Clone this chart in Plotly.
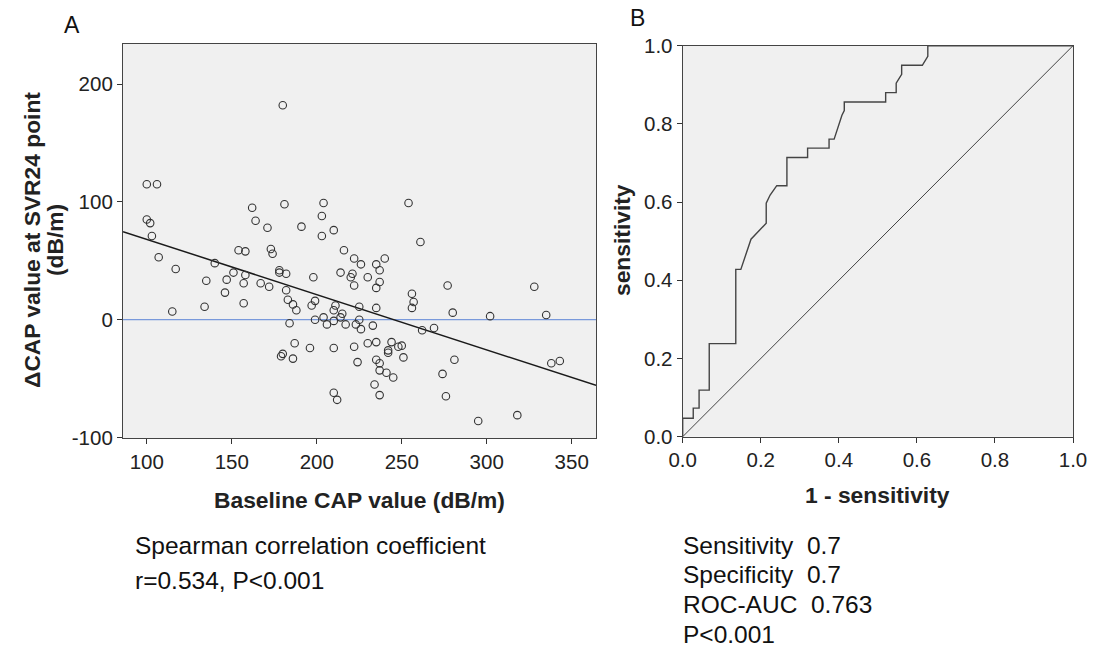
import plotly.graph_objects as go

# ---------------- Data ----------------
baseline_cap = [100, 106, 100, 102, 103, 107, 117, 115, 134, 135, 140, 146, 147, 151, 154, 158, 158, 157, 157,
                162, 164, 167, 171, 172, 173, 174, 178, 178, 182, 181, 182, 183, 186, 188, 184, 187, 196, 180,
                179, 186, 191, 198, 199, 197, 199, 204, 203, 203, 210, 216, 214, 211, 210, 215, 204, 206, 210,
                214, 210, 210, 212, 217, 254, 261, 222, 226, 235, 240, 237, 221, 220, 230, 237, 222, 235, 277,
                328, 256, 257, 256, 225, 235, 225, 223, 226, 233, 280, 302, 335, 262, 269, 222, 230, 235, 244,
                242, 242, 248, 250, 251, 224, 235, 237, 237, 241, 245, 234, 237, 281, 274, 276, 295, 318, 338,
                343, 180]
delta_cap = [115, 115, 85, 82, 71, 53, 43, 7, 11, 33, 48, 23, 34, 40, 59, 58, 38, 31, 14,
             95, 84, 31, 78, 28, 60, 56, 42, 40, 39, 98, 25, 17, 13, 8, -3, -20, -24, -29,
             -31, -33, 79, 36, 16, 12, 0, 99, 88, 71, 76, 59, 40, 12, 8, 5, 2, -4, -1,
             2, -24, -62, -68, -4, 99, 66, 52, 47, 47, 52, 42, 39, 36, 36, 32, 29, 27, 29,
             28, 22, 15, 10, 11, 10, 0, -4, -8, -5, 6, 3, 4, -9, -7, -23, -20, -19, -19,
             -26, -28, -23, -22, -32, -36, -34, -37, -43, -45, -49, -55, -64, -34, -46, -65, -86, -81, -37,
             -35, 182]

# regression line: y = intercept + slope * x
fit_x_ends = [86, 364.3]
fit_intercept = 115.1
fit_slope = -0.469

# ROC curve
roc_fpr = [0, 0, 0.027, 0.027, 0.042, 0.042, 0.068, 0.068, 0.136, 0.136,
           0.149, 0.175, 0.214, 0.214, 0.224, 0.241, 0.267, 0.267, 0.320, 0.320,
           0.375, 0.375, 0.388, 0.408, 0.414, 0.414, 0.520, 0.520, 0.547, 0.547,
           0.561, 0.561, 0.614, 0.628, 0.628, 1.0]
roc_tpr = [0, 0.047, 0.047, 0.073, 0.073, 0.119, 0.119, 0.238, 0.238, 0.428,
           0.428, 0.505, 0.546, 0.597, 0.618, 0.642, 0.642, 0.714, 0.714, 0.738,
           0.738, 0.761, 0.761, 0.822, 0.834, 0.856, 0.856, 0.880, 0.880, 0.904,
           0.927, 0.950, 0.950, 0.973, 1.0, 1.0]
ref_line = [0, 1]

a_xticks = [100, 150, 200, 250, 300, 350]
a_yticks = [-100, 0, 100, 200]
a_yticklabels = ["-100", "0", "100", "200"]
b_ticks = [0.0, 0.2, 0.4, 0.6, 0.8, 1.0]

# ---------------- Figure ----------------
W, H = 1106, 647
FONT = "Liberation Sans, Arial, sans-serif"


def px(x):
    return x / W


def py(y):
    return 1 - y / H


fig = go.Figure()

fig.add_trace(go.Scatter(x=fit_x_ends, y=[0, 0], mode="lines",
                         line=dict(color="#5b83d6", width=1), xaxis="x", yaxis="y",
                         hoverinfo="skip", showlegend=False))
fig.add_trace(go.Scatter(x=fit_x_ends, y=[fit_intercept + fit_slope * v for v in fit_x_ends],
                         mode="lines", line=dict(color="#1a1a1a", width=1.5),
                         xaxis="x", yaxis="y", showlegend=False))
fig.add_trace(go.Scatter(x=baseline_cap, y=delta_cap, mode="markers",
                         marker=dict(symbol="circle-open", size=7.5, color="#333333",
                                     line=dict(width=1.1, color="#333333")),
                         xaxis="x", yaxis="y", showlegend=False, cliponaxis=False))

fig.add_trace(go.Scatter(x=ref_line, y=ref_line, mode="lines",
                         line=dict(color="#444444", width=1), xaxis="x2", yaxis="y2", showlegend=False))
fig.add_trace(go.Scatter(x=roc_fpr, y=roc_tpr, mode="lines",
                         line=dict(color="#444444", width=1.4), xaxis="x2", yaxis="y2", showlegend=False))

axis_common = dict(showgrid=False, zeroline=False, ticks="outside", ticklen=5, tickwidth=1,
                   tickcolor="#333333", showline=True, linecolor="#444444", linewidth=1.2,
                   mirror=True, automargin=False,
                   tickfont=dict(family=FONT, size=20.5, color="#222222"))

fig.update_layout(
    width=W, height=H,
    margin=dict(l=0, r=0, t=0, b=0, autoexpand=False),
    paper_bgcolor="white",
    plot_bgcolor="#f0f0f0",
    font=dict(family=FONT, color="#222222"),
    xaxis=dict(domain=[px(123), px(596)], range=[86, 364.3], tickvals=a_xticks,
               anchor="y", **axis_common),
    yaxis=dict(domain=[py(438), py(44)], range=[-100.4, 234], tickvals=a_yticks,
               ticktext=a_yticklabels, anchor="x", **axis_common),
    xaxis2=dict(domain=[px(682.7), px(1073)], range=[0, 1], tickvals=b_ticks,
                tickformat=".1f", anchor="y2", **axis_common),
    yaxis2=dict(domain=[py(436.7), py(45.7)], range=[0, 1], tickvals=b_ticks,
                tickformat=".1f", anchor="x2", **axis_common),
)

bold = dict(family=FONT, size=22.8, color="#222222")
reg = dict(family=FONT, size=24.5, color="#111111")

ann = [
    dict(x=px(72), y=py(25), text="A", font=dict(family=FONT, size=23, color="#111111")),
    dict(x=px(637), y=py(18), text="B", font=dict(family=FONT, size=23, color="#111111")),
    dict(x=px(359), y=py(500), text="<b>Baseline CAP value (dB/m)</b>", font=bold),
    dict(x=px(878), y=py(495), text="<b>1 - sensitivity</b>", font=bold),
    dict(x=px(32), y=py(240), text="<b>ΔCAP value at SVR24 point</b>", font=bold, textangle=-90),
    dict(x=px(55), y=py(240), text="<b>(dB/m)</b>", font=bold, textangle=-90),
    dict(x=px(622), y=py(240), text="<b>sensitivity</b>", font=bold, textangle=-90),
]
for a in ann:
    a.update(xref="paper", yref="paper", showarrow=False, xanchor="center", yanchor="middle")
    fig.add_annotation(**a)

left_texts = [("Spearman correlation coefficient", 545), ("r=0.534, P<0.001", 580)]
for t, y in left_texts:
    fig.add_annotation(x=px(133), y=py(y), text=t, xref="paper", yref="paper", showarrow=False,
                       xanchor="left", yanchor="middle", font=reg)

right_texts = [("Sensitivity  0.7", 545.4), ("Specificity  0.7", 574.7), ("ROC-AUC  0.763", 604), ("P<0.001", 634)]
for t, y in right_texts:
    fig.add_annotation(x=px(681), y=py(y), text=t.replace("  ", "&nbsp;&nbsp;"), xref="paper", yref="paper",
                       showarrow=False, xanchor="left", yanchor="middle", font=reg)

fig.write_html("out.html", config={"displayModeBar": False},
               post_script="document.body.style.margin='0';document.body.style.overflow='hidden';")
